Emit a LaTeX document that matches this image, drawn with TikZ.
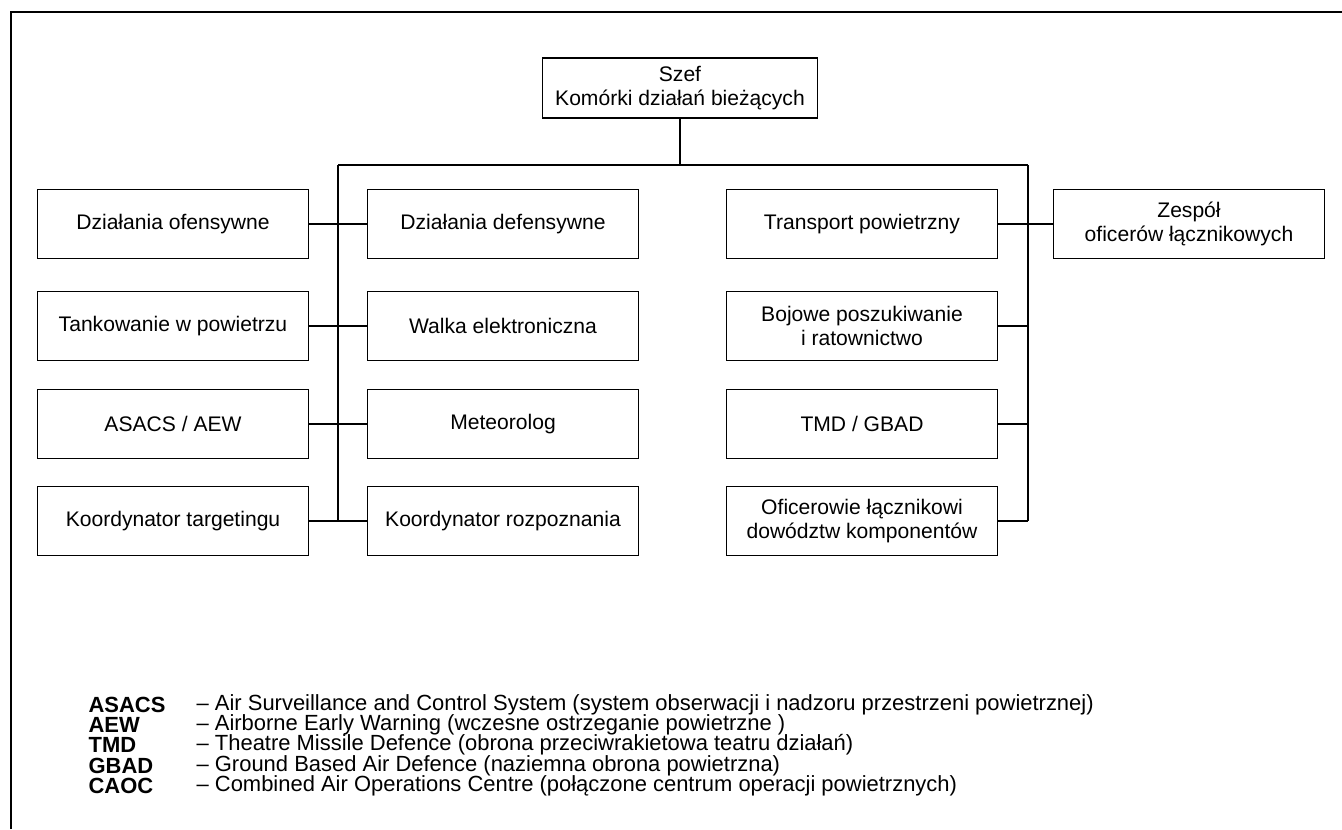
\documentclass[tikz,border=0pt]{standalone}
\usepackage{fontspec}
\setmainfont{Liberation Sans}
\tikzset{
    box/.style={draw, line width=0.7pt, minimum width=5.42cm, minimum height=1.37cm, align=center, font=\fontsize{12}{14}\selectfont},
    skrot/.style={anchor=west, inner sep=0pt, font=\fontsize{12.5}{13}\selectfont\bfseries},
    opis/.style={anchor=west, inner sep=0pt, font=\fontsize{12.5}{13}\selectfont}
}
\begin{document}
\begin{tikzpicture}[x=0.02cm, y=-0.02cm, line width=0.7pt]
    \useasboundingbox (0,0) rectangle (1342,829);
    % Ramka
    \draw[line width=1.5pt] (11,829) -- (11,12) -- (1342,12);
    % Szef
    \node[box, minimum width=5.5cm, minimum height=1.2cm] (szef) at (680,88) {Szef\\Komórki działań bieżących};
    % Lewa i srodkowa kolumna
    \node[box] (ofens) at (173,224) {Działania ofensywne};
    \node[box] (tank) at (173,326) {Tankowanie w powietrzu};
    \node[box] (asacs) at (173,424) {ASACS / AEW};
    \node[box] (ktarg) at (173,521) {Koordynator targetingu};
    \node[box] (defens) at (503,224) {Działania defensywne};
    \node[box] (walka) at (503,326) {Walka elektroniczna};
    \node[box] (meteo) at (503,424) {Meteorolog};
    \node[box] (krozp) at (503,521) {Koordynator rozpoznania};
    % Prawa kolumna
    \node[box] (transp) at (862,224) {Transport powietrzny};
    \node[box] (bojowe) at (862,326) {Bojowe poszukiwanie\\i ratownictwo};
    \node[box] (tmd) at (862,424) {TMD / GBAD};
    \node[box] (oficer) at (862,521) {Oficerowie łącznikowi\\dowództw komponentów};
    \node[box] (zespol) at (1189,224) {Zespół\\oficerów łącznikowych};
    % Linie
    \coordinate (busL) at (338,165);
    \coordinate (busR) at (1028,165);
    \draw (szef.south) -- (szef.south |- busL);
    \draw (busL) -- (busR);
    \draw (busL) -- (busL |- ktarg);
    \draw (busR) -- (busR |- oficer);
    \draw (ofens) -- (defens);
    \draw (tank) -- (walka);
    \draw (asacs) -- (meteo);
    \draw (ktarg) -- (krozp);
    \draw (transp) -- (zespol);
    \draw (bojowe.east) -- (bojowe.east -| busR);
    \draw (tmd.east) -- (tmd.east -| busR);
    \draw (oficer.east) -- (oficer.east -| busR);
    % Legenda
    \node[skrot] (l1) at (88,705) {ASACS};
    \node[skrot] (l2) at (88,725) {AEW};
    \node[skrot] (l3) at (88,745) {TMD};
    \node[skrot] (l4) at (88,766) {GBAD};
    \node[skrot] (l5) at (88,786) {CAOC};
    \node[opis] (o1) at (196,705) {– Air Surveillance and Control System (system obserwacji i nadzoru przestrzeni powietrznej)};
    \node[opis] (o2) at (196,725) {– Airborne Early Warning (wczesne ostrzeganie powietrzne )};
    \node[opis] (o3) at (196,745) {– Theatre Missile Defence (obrona przeciwrakietowa teatru działań)};
    \node[opis] (o4) at (196,766) {– Ground Based Air Defence (naziemna obrona powietrzna)};
    \node[opis] (o5) at (196,786) {– Combined Air Operations Centre (połączone centrum operacji powietrznych)};
\end{tikzpicture}
\end{document}
